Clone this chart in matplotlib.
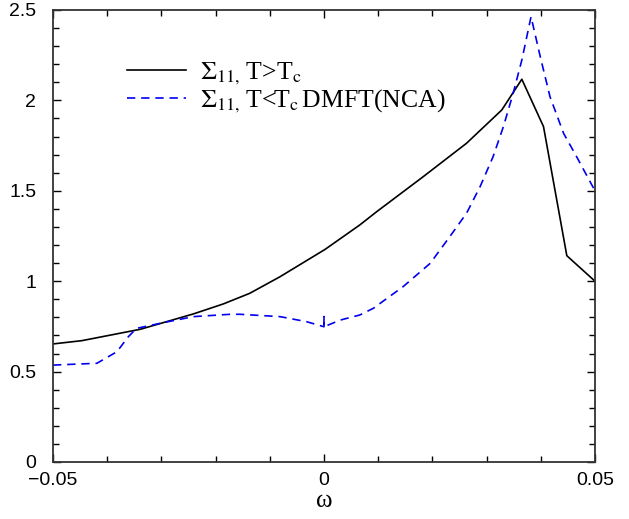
import numpy as np
import matplotlib
matplotlib.use('Agg')
import matplotlib.pyplot as plt
from matplotlib.ticker import MultipleLocator, FuncFormatter

# 数据
w_normal = [-0.05, -0.0447, -0.0339, -0.0241, -0.0186, -0.0137, -0.0081, 0.0002,
            0.0066, 0.0097, 0.0183, 0.0263, 0.0328, 0.0365, 0.0405, 0.0448, 0.05]
s_normal = [0.653, 0.671, 0.734, 0.819, 0.874, 0.933, 1.025, 1.176,
            1.311, 1.384, 1.578, 1.763, 1.947, 2.117, 1.855, 1.141, 1.0]

w_sc = [-0.05, -0.0419, -0.0382, -0.0361, -0.0346, -0.0296, -0.0241, -0.0173,
        -0.0155, -0.0081, -0.0032, 0.0, 0.0, 0.0, 0.0030, 0.0066, 0.0091,
        0.0146, 0.0196, 0.0232, 0.0263, 0.0288, 0.0312, 0.0331, 0.0349,
        0.0365, 0.0382, 0.0399, 0.0417, 0.0442, 0.0466, 0.05]
s_sc = [0.536, 0.546, 0.610, 0.693, 0.739, 0.771, 0.804, 0.817,
        0.817, 0.804, 0.776, 0.748, 0.804, 0.748, 0.785, 0.813, 0.850,
        0.970, 1.099, 1.246, 1.376, 1.523, 1.689, 1.855, 2.039,
        2.223, 2.463, 2.242, 2.020, 1.818, 1.689, 1.50]

labels = [r'$\Sigma_{11,}\,$T>T$_{\rm c}$', r'$\Sigma_{11,}\,$T<T$_{\rm c}\,$DMFT(NCA)']

plt.rcParams['mathtext.fontset'] = 'stix'

fig = plt.figure(figsize=(6.29, 5.19), dpi=100)
ax = fig.add_axes([53/629, 1 - 462/519, 542/629, 452/519])

ax.plot(w_normal, s_normal, color='black', lw=1.2, label=labels[0])
ax.plot(w_sc, s_sc, color='#0000ee', lw=1.2, ls=(0, (5, 3.5)), label=labels[1])

ax.set_xlim(-0.05, 0.05)
ax.set_ylim(0, 2.5)
ax.xaxis.set_major_locator(MultipleLocator(0.05))
ax.xaxis.set_minor_locator(MultipleLocator(0.01))
ax.yaxis.set_major_locator(MultipleLocator(0.5))
ax.yaxis.set_minor_locator(MultipleLocator(0.1))

fmt = FuncFormatter(lambda v, p: ('%g' % round(v, 4)).replace('-', '\u2212'))
ax.xaxis.set_major_formatter(fmt)
ax.yaxis.set_major_formatter(fmt)

ax.tick_params(which='both', direction='in', top=True, right=True,
               labelsize=14, colors='black')
ax.tick_params(which='major', length=6, width=1)
ax.tick_params(which='minor', length=4, width=1)
for lab in ax.get_xticklabels() + ax.get_yticklabels():
    lab.set_family('Liberation Sans')
ax.tick_params(axis='y', pad=12)
ax.tick_params(axis='x', pad=7)
for sp in ax.spines.values():
    sp.set_linewidth(1.3)
    sp.set_color('#333333')

ax.set_xlabel('ω', fontsize=18, family='Liberation Serif', labelpad=1)

leg = ax.legend(loc='upper left', bbox_to_anchor=(0.093, 0.94), frameon=False,
                prop={'family': 'Liberation Serif', 'size': 18.5},
                handlelength=2.3, handletextpad=0.55, labelspacing=0.0)

fig.savefig('out.png', dpi=100)
